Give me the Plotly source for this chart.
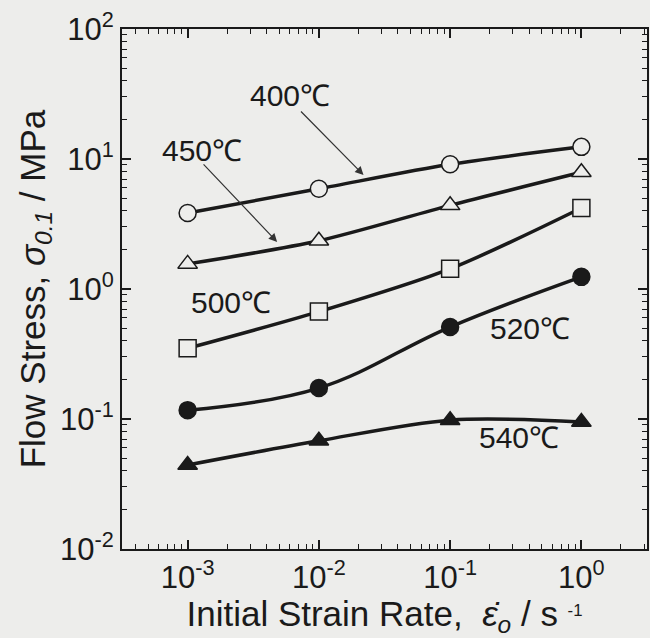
import plotly.graph_objects as go

rates = [1e-3, 1e-2, 1e-1, 1e0]
s400 = [3.84, 5.9, 9.1, 12.4]
s450 = [1.56, 2.35, 4.4, 7.9]
s500 = [0.35, 0.67, 1.43, 4.2]
s520 = [0.117, 0.173, 0.51, 1.24]
s540 = [0.0443, 0.068, 0.098, 0.095]

labels = ["400℃", "450℃", "500℃", "520℃", "540℃"]
label_x = [-2.22, -2.894, -2.667, -0.394, -0.477]
label_y = [1.49, 1.069, -0.10, -0.30, -1.146]

xtickvals = [1e-3, 1e-2, 1e-1, 1e0]
xticktext = ["10<sup>-3</sup>", "10<sup>-2</sup>", "10<sup>-1</sup>", "10<sup>0</sup>"]
ytickvals = [1e-2, 1e-1, 1e0, 1e1, 1e2]
yticktext = ["10<sup>-2</sup>", "10<sup>-1</sup>", "10<sup>0</sup>", "10<sup>1</sup>", "10<sup>2</sup>"]
x_minor = [m * d for d in [1e-4, 1e-3, 1e-2, 1e-1, 1e0] for m in range(2, 10)]
y_minor = [m * d for d in [1e-2, 1e-1, 1e0, 1e1] for m in range(2, 10)]

BG = "#ededeb"
INK = "#1a1a1a"
FONT = "Liberation Sans, Arial, sans-serif"

series = [
    (s400, "circle", BG, 0.8),
    (s450, "triangle-up", BG, 0.8),
    (s500, "square", BG, 0.8),
    (s520, "circle", INK, 1.1),
    (s540, "triangle-up", INK, 0.9),
]

fig = go.Figure()
for ys, sym, fill, sm in series:
    fig.add_trace(go.Scatter(
        x=rates, y=ys, mode="lines+markers",
        line=dict(color=INK, width=3.5, shape="spline", smoothing=sm),
        marker=dict(symbol=sym, size=17, color=fill, line=dict(color=INK, width=1.5)),
        showlegend=False, cliponaxis=False,
    ))

for t, lx, ly in zip(labels, label_x, label_y):
    fig.add_annotation(x=lx, y=ly, text=t, showarrow=False,
                       font=dict(size=30, color=INK, family=FONT))

# arrows
fig.add_annotation(x=-1.66, y=0.877, ax=-64, ay=-65, text="", showarrow=True,
                   arrowhead=2, arrowsize=1.4, arrowwidth=1.2, arrowcolor="#333")
fig.add_annotation(x=-2.318, y=0.362, ax=-75, ay=-79, text="", showarrow=True,
                   arrowhead=2, arrowsize=1.4, arrowwidth=1.2, arrowcolor="#333")

axis_common = dict(
    showline=True, linecolor=INK, linewidth=2, mirror="ticks",
    ticks="inside", ticklen=9, tickwidth=1.5, tickcolor=INK,
    showgrid=False, zeroline=False,
    tickfont=dict(size=31, color=INK, family=FONT),
)

fig.update_xaxes(type="log", range=[-3.5, 0.5], tickvals=xtickvals, ticktext=xticktext,
                 minor=dict(tickvals=x_minor, ticks="inside", ticklen=5, tickwidth=1,
                            tickcolor=INK, showgrid=False),
                 title=dict(text="Initial Strain Rate,  <i>ε̇</i><sub><i>o</i></sub> / s <span style='font-size:24px'><sup>-1</sup></span>",
                            font=dict(size=35, color=INK, family=FONT), standoff=9),
                 **axis_common)
fig.update_yaxes(type="log", range=[-2, 2], tickvals=ytickvals, ticktext=yticktext,
                 minor=dict(tickvals=y_minor, ticks="inside", ticklen=5, tickwidth=1,
                            tickcolor=INK, showgrid=False),
                 title=dict(text="Flow Stress, <i>σ</i><sub><i>0.1</i></sub> / MPa",
                            font=dict(size=35, color=INK, family=FONT), standoff=4),
                 **axis_common)

fig.update_layout(
    width=650, height=638,
    margin=dict(l=122, r=1, t=29, b=89),
    paper_bgcolor=BG, plot_bgcolor=BG,
)

fig.write_html("out.html")
